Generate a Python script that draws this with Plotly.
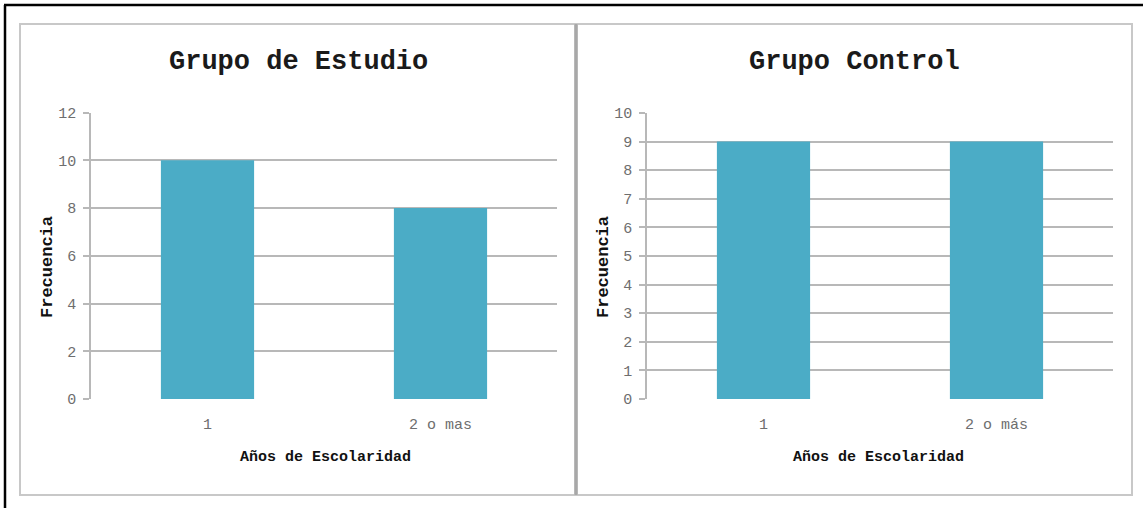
import plotly.graph_objects as go

# Data
categorias_estudio = ["1", "2 o mas"]
frecuencia_estudio = [10, 8]
categorias_control = ["1", "2 o más"]
frecuencia_control = [9, 9]

titulo_estudio = "Grupo de Estudio"
titulo_control = "Grupo Control"
eje_x_titulo = "Años de Escolaridad"
eje_y_titulo = "Frecuencia"

W, H = 1143, 508
BAR = "#4BACC6"
GRID = "#B8B8B8"
MONO = "Liberation Mono, DejaVu Sans Mono, monospace"
TICKFONT = dict(family=MONO, size=15, color="#6E6E6E")


def px_x(v):
    return v / W


def px_y(v):
    return 1 - v / H


fig = go.Figure()
fig.add_trace(go.Bar(x=categorias_estudio, y=frecuencia_estudio, marker_color=BAR,
                     marker_line_width=0, xaxis="x", yaxis="y"))
fig.add_trace(go.Bar(x=categorias_control, y=frecuencia_control, marker_color=BAR,
                     marker_line_width=0, xaxis="x2", yaxis="y2"))

common_x = dict(type="category", showgrid=False, showline=False, zeroline=False, ticks="",
                automargin=False, tickfont=TICKFONT, ticklabelstandoff=14, fixedrange=True)
common_y = dict(showgrid=True, gridcolor=GRID, gridwidth=1.5, zeroline=False, automargin=False,
                showline=True, linecolor=GRID, linewidth=1.5,
                ticks="outside", ticklen=6, tickcolor=GRID, tickwidth=1.5,
                tickfont=TICKFONT, ticklabelstandoff=4, fixedrange=True)

fig.update_layout(
    template="none",
    width=W, height=H,
    margin=dict(l=0, r=0, t=0, b=0, autoexpand=False),
    paper_bgcolor="white", plot_bgcolor="white",
    showlegend=False, bargap=0.6,
    xaxis=dict(domain=[px_x(91), px_x(557)], anchor="y", **common_x),
    yaxis=dict(domain=[px_y(399), px_y(112.5)], anchor="x", range=[0, 12], dtick=2, **common_y),
    xaxis2=dict(domain=[px_x(647), px_x(1113)], anchor="y2", **common_x),
    yaxis2=dict(domain=[px_y(399), px_y(113)], anchor="x2", range=[0, 10], dtick=1, **common_y),
)

# Chart area frames, divider and outer border
shapes = [
    dict(type="rect", xref="paper", yref="paper", x0=px_x(20), x1=px_x(575),
         y0=px_y(495), y1=px_y(24), line=dict(color="#C8C8C8", width=2)),
    dict(type="rect", xref="paper", yref="paper", x0=px_x(577), x1=px_x(1132),
         y0=px_y(495), y1=px_y(24), line=dict(color="#C8C8C8", width=2)),
    dict(type="line", xref="paper", yref="paper", x0=px_x(576), x1=px_x(576),
         y0=px_y(495), y1=px_y(24), line=dict(color="#A8A8A8", width=3)),
    dict(type="line", xref="paper", yref="paper", x0=px_x(5), x1=px_x(5),
         y0=0, y1=px_y(5), line=dict(color="black", width=2.5)),
    dict(type="line", xref="paper", yref="paper", x0=px_x(4), x1=1,
         y0=px_y(5), y1=px_y(5), line=dict(color="black", width=2.5)),
]
fig.update_layout(shapes=shapes)

annotations = []
for cx, title, xa_center, ytitle_x in [
    (298, titulo_estudio, 325, 47),
    (854, titulo_control, 878, 603),
]:
    annotations.append(dict(text="<b>" + title + "</b>", x=px_x(cx), y=px_y(62),
                            xref="paper", yref="paper",
                            showarrow=False, xanchor="center", yanchor="middle",
                            font=dict(family=MONO, size=27, color="#1A1A1A")))
    annotations.append(dict(text="<b>" + eje_x_titulo + "</b>", x=px_x(xa_center), y=px_y(457),
                            xref="paper", yref="paper", showarrow=False,
                            xanchor="center", yanchor="middle",
                            font=dict(family=MONO, size=15, color="#111111")))
    annotations.append(dict(text="<b>" + eje_y_titulo + "</b>", x=px_x(ytitle_x), y=px_y(267),
                            xref="paper", yref="paper", showarrow=False, textangle=-90,
                            xanchor="center", yanchor="middle",
                            font=dict(family=MONO, size=17, color="#111111")))
fig.update_layout(annotations=annotations)

fig.write_html("out.html")
